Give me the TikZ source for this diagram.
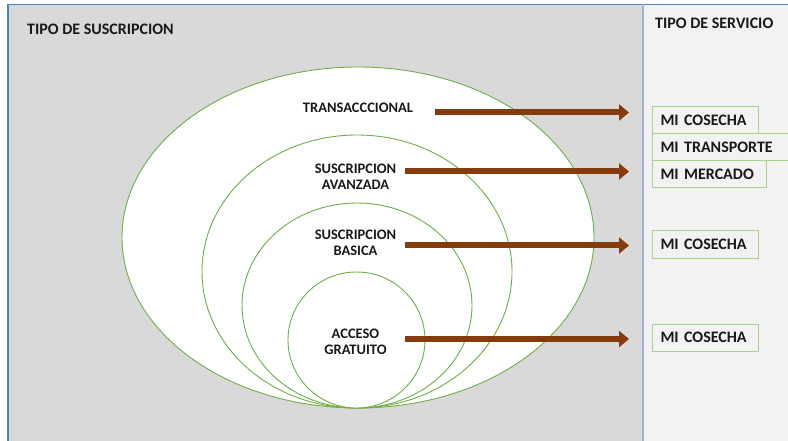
\documentclass[tikz,border=0pt]{standalone}
\usepackage{fontspec}
\setmainfont{Carlito}
\usetikzlibrary{arrows.meta}
\definecolor{panelL}{HTML}{D9D9D9}
\definecolor{panelR}{HTML}{F2F2F2}
\definecolor{frame}{HTML}{4F81BD}
\definecolor{divider}{HTML}{9DB6D8}
\definecolor{ring}{HTML}{70AD47}
\definecolor{boxline}{HTML}{A9D18E}
\definecolor{arrowbrown}{HTML}{843C0C}
\tikzset{
  ring/.style={draw=ring, line width=0.9pt, fill=white},
  heading/.style={font=\bfseries\fontsize{16}{19}\selectfont, anchor=west, inner sep=0pt, text=black!90},
  level/.style={font=\bfseries\fontsize{14.5}{16}\selectfont, align=center, inner sep=0pt, text=black!90},
  service/.style={draw=boxline, line width=1pt, anchor=north west, minimum height=27pt,
    inner xsep=8pt, inner ysep=0pt, align=left, font=\bfseries\fontsize{16}{19}\selectfont, text=black!90},
  flow/.style={draw=arrowbrown, line width=6pt, -{Triangle[length=10pt,width=16pt]}, shorten >=23pt}
}
\begin{document}
\begin{tikzpicture}[x=1pt,y=-1pt]
\useasboundingbox (0,0) rectangle (788,441);
% panels
\fill[white] (0,0) rectangle (788,441);
\fill[panelL] (8,4.5) rectangle (643,441);
\fill[panelR] (643,4.5) rectangle (788,441);
\draw[frame, line width=1.3pt] (8,441) -- (8,4.5) -- (788,4.5);
\draw[divider, line width=1.3pt] (643,4.5) -- (643,441);

% nested subscription levels, all touching at the bottom
\path[ring] (358,237.5) ellipse [x radius=236pt, y radius=170.5pt];
\path[ring] (357,271.5) ellipse [x radius=155pt, y radius=136.5pt];
\path[ring] (357,305.5) ellipse [x radius=115pt, y radius=102.5pt];
\path[ring] (356.5,340) ellipse [x radius=68.5pt, y radius=68pt];

% headings
\node[heading] (h1) at (27,29.2) {TIPO DE SUSCRIPCION};
\node[heading] (h2) at (655,23.8) {TIPO DE SERVICIO};

% level labels
\node[level] (t1) at (358,108) {TRANSACCCIONAL};
\node[level] (t2) at (355.5,176.5) {SUSCRIPCION\\AVANZADA};
\node[level] (t3) at (355.5,242.5) {SUSCRIPCION\\BASICA};
\node[level] (t4) at (355.5,341.5) {ACCESO\\GRATUITO};

% services
\node[service, text width=90pt] (s1) at (652,106) {MI COSECHA};
\node[service, text width=120pt] (s2) at (652,133) {MI TRANSPORTE};
\node[service, text width=98pt] (s3) at (652,160) {MI MERCADO};
\node[service, text width=90pt] (s4) at (652,230.5) {MI COSECHA};
\node[service, text width=90pt] (s5) at (652,323.5) {MI COSECHA};

% arrow start points
\coordinate (a1) at (435,112.5);
\coordinate (a2) at (405,171.5);
\coordinate (a3) at (405,245.5);
\coordinate (a4) at (405,339);

\draw[flow] (a1) -- (a1 -| s1.west);
\draw[flow] (a2) -- (a2 -| s3.west);
\draw[flow] (a3) -- (a3 -| s4.west);
\draw[flow] (a4) -- (a4 -| s5.west);
\end{tikzpicture}
\end{document}
